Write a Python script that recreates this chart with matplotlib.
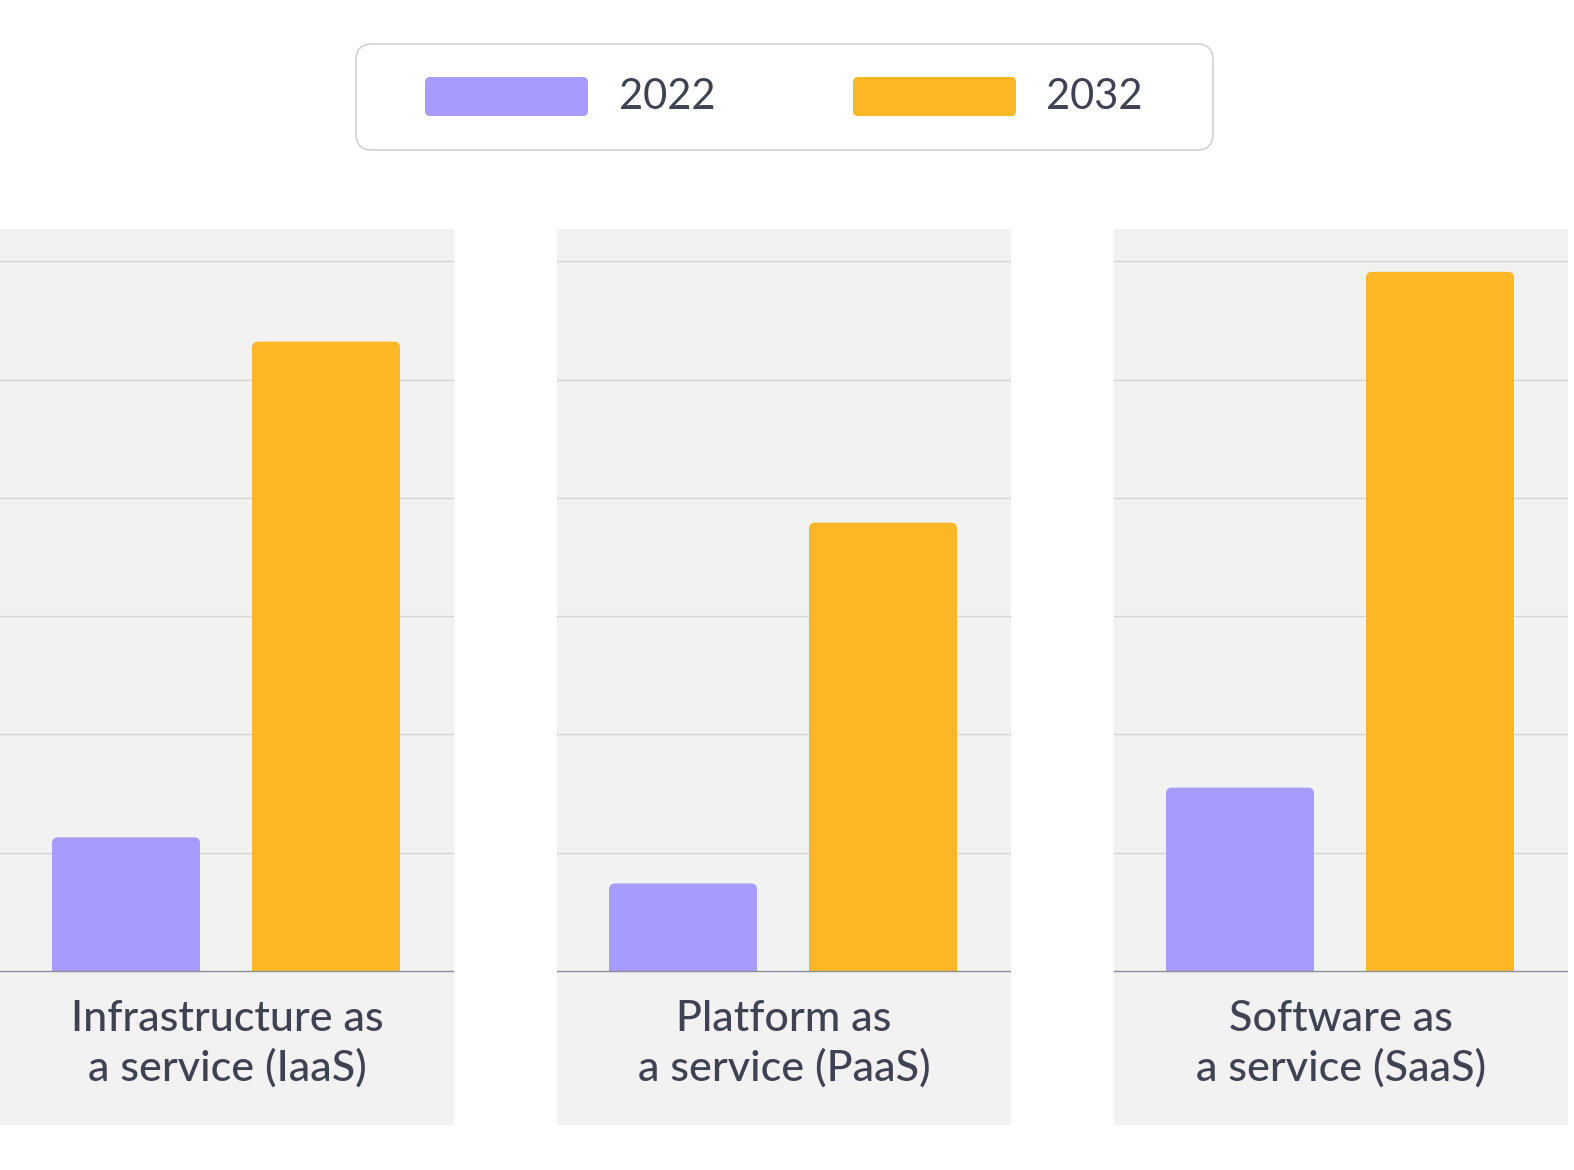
import matplotlib
matplotlib.use("Agg")
import matplotlib.pyplot as plt
from matplotlib.patches import FancyBboxPatch, Rectangle

plt.rcParams['font.family'] = ['Lato', 'DejaVu Sans']

categories = ["Infrastructure as\na service (IaaS)",
              "Platform as\na service (PaaS)",
              "Software as\na service (SaaS)"]
series_names = ["2022", "2032"]
values_2022 = [1.13, 0.74, 1.55]
values_2032 = [5.32, 3.79, 5.91]
grid_ticks = [1, 2, 3, 4, 5, 6]

colors = ["#a59cfb", "#fbb726"]
text_color = "#3f4252"
panel_bg = "#f2f2f2"

W, H = 1574, 1170
fig = plt.figure(figsize=(W / 100, H / 100), dpi=100)
fig.patch.set_facecolor("white")

panel_lefts = [0, 557, 1114]
panel_w = 454
panel_top, panel_bottom = 229, 1125
baseline = 971
unit_px = 118.3
bar_spacing_px = 200.0
first_center_px = 126.0
bar_w_px = 148.0

ymax = (baseline - panel_top) / unit_px
ymin = -(panel_bottom - baseline) / unit_px
xmin = -first_center_px / bar_spacing_px
xmax = (panel_w - first_center_px) / bar_spacing_px
bar_w = bar_w_px / bar_spacing_px
r_px = 6.0
r_x = r_px / bar_spacing_px
aspect = (1 / unit_px) / (1 / bar_spacing_px)

for i, cat in enumerate(categories):
    ax = fig.add_axes([panel_lefts[i] / W, (H - panel_bottom) / H,
                       panel_w / W, (panel_bottom - panel_top) / H])
    ax.set_facecolor(panel_bg)
    ax.set_xlim(xmin, xmax)
    ax.set_ylim(ymin, ymax)
    for s in ax.spines.values():
        s.set_visible(False)
    ax.set_xticks([])
    ax.set_yticks([])
    for g in grid_ticks:
        ax.axhline(g, color="#d4d4d4", lw=1.0, zorder=1)
    clip = Rectangle((xmin, 0), xmax - xmin, ymax, transform=ax.transData)
    for j, vals in enumerate([values_2022, values_2032]):
        v = vals[i]
        p = FancyBboxPatch((j - bar_w / 2, -1), bar_w, v + 1,
                           boxstyle=f"round,pad=0,rounding_size={r_x}",
                           mutation_aspect=aspect,
                           facecolor=colors[j], edgecolor="none", zorder=2)
        ax.add_patch(p)
        p.set_clip_path(clip)
    ax.axhline(0, color="#8e8e96", lw=1.0, zorder=3)
    ax.text((xmin + xmax) / 2, -0.615, cat, ha="center", va="center",
            fontsize=31, fontweight="medium", color=text_color,
            linespacing=1.3)

# Legend
lax = fig.add_axes([0, 0, 1, 1], facecolor="none")
lax.set_xlim(0, W)
lax.set_ylim(H, 0)
lax.axis("off")
lax.add_patch(FancyBboxPatch((356, 44), 857, 106,
                             boxstyle="round,pad=0,rounding_size=16",
                             facecolor="white", edgecolor="#d2d2d2", lw=1.2))
swatch_x = [425, 853]
label_x = [619, 1046]
for k, name in enumerate(series_names):
    lax.add_patch(FancyBboxPatch((swatch_x[k], 77), 163, 39,
                                 boxstyle="round,pad=0,rounding_size=5",
                                 facecolor=colors[k], edgecolor="none"))
    lax.text(label_x[k], 97, name, ha="left", va="center", fontsize=30,
             color=text_color)

fig.savefig("out.png", dpi=100)
